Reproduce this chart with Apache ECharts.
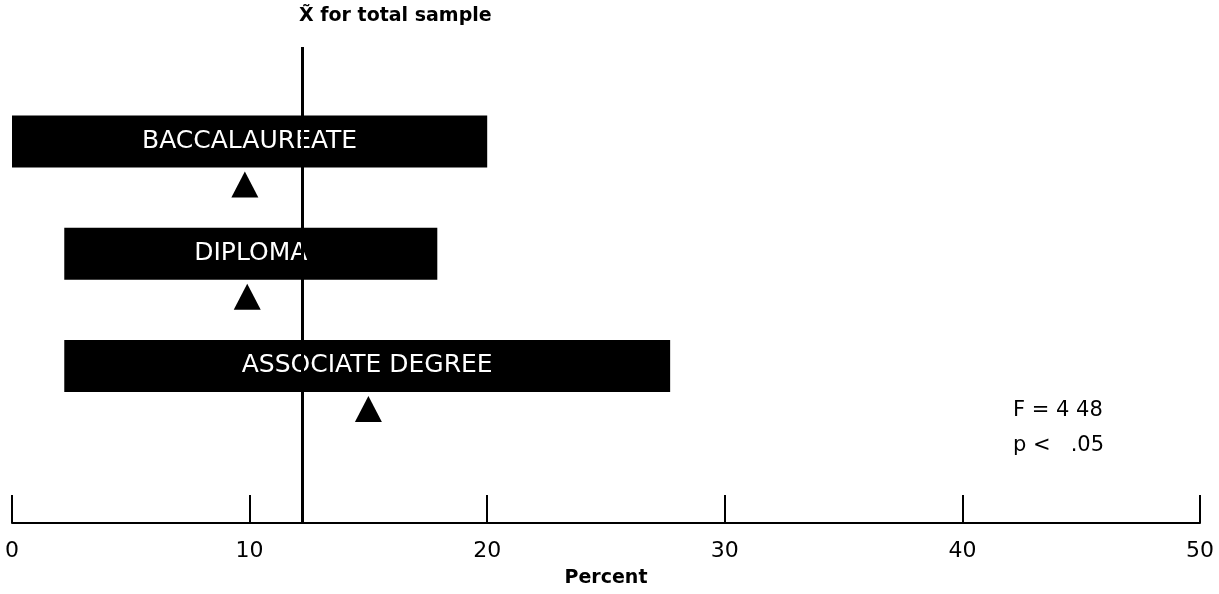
<!DOCTYPE html>
<html>
<head>
<meta charset="utf-8">
<script src="https://cdn.jsdelivr.net/npm/echarts@6/dist/echarts.min.js"></script>
<style>
  html, body { margin: 0; padding: 0; background: #ffffff; }
  #chart { width: 1219px; height: 594px; }
</style>
</head>
<body>
<div id="chart"></div>
<script>
// ---- data ----
const categories = ['BACCALAUREATE', 'DIPLOMA', 'ASSOCIATE DEGREE'];
const rangeLow = [0, 2.2, 2.2];
const rangeHigh = [20, 17.9, 27.7];
const groupMedians = [9.8, 9.9, 15.0];
const totalMedian = 12.2;
const xTickValues = [0, 10, 20, 30, 40, 50];
const statLines = ['F = 4 48', 'p <   .05'];

const FONT = 'DejaVu Sans';
const chart = echarts.init(document.getElementById('chart'), null, { renderer: 'canvas' });

const barData = categories.map((c, i) => [rangeLow[i], rangeHigh[i], i, c]);
const medianData = groupMedians.map((m, i) => [m, i]);

chart.setOption({
  animation: false,
  backgroundColor: '#ffffff',
  title: {
    text: 'X\u0303 for total sample',
    left: 294, top: 2,
    textStyle: { fontFamily: FONT, fontSize: 19, fontWeight: 'bold', color: '#000' }
  },
  grid: { left: 12, right: 19, top: 47, bottom: 71, containLabel: false },
  xAxis: {
    type: 'value',
    min: xTickValues[0], max: xTickValues[xTickValues.length - 1], interval: 10,
    splitLine: { show: false },
    axisLine: { show: true, onZero: false, lineStyle: { color: '#000', width: 2 } },
    axisTick: { show: true, inside: true, length: 28, lineStyle: { color: '#000', width: 2 } },
    axisLabel: { margin: 17, fontFamily: FONT, fontSize: 22, color: '#000' },
    name: 'Percent', nameLocation: 'middle', nameGap: 46,
    nameTextStyle: { fontFamily: FONT, fontSize: 19, fontWeight: 'bold', color: '#000' }
  },
  yAxis: {
    type: 'value', inverse: true, min: -0.842, max: 3.399, show: false
  },
  series: [
    {
      type: 'custom',
      data: barData,
      encode: { x: [0, 1], y: 2 },
      renderItem: function (params, api) {
        const lo = api.coord([api.value(0), api.value(2)]);
        const hi = api.coord([api.value(1), api.value(2)]);
        const h = 52;
        return {
          type: 'group',
          children: [
            { type: 'rect', shape: { x: lo[0], y: lo[1] - h / 2, width: hi[0] - lo[0], height: h },
              style: { fill: '#000' } },
            { type: 'text', x: (lo[0] + hi[0]) / 2, y: lo[1],
              style: { text: categories[params.dataIndex], fill: '#fff', font: '25px "' + FONT + '"',
                       textAlign: 'center', textVerticalAlign: 'middle' } }
          ]
        };
      },
      z: 2
    },
    {
      type: 'scatter',
      data: medianData,
      symbol: 'triangle',
      symbolSize: [27, 26],
      symbolOffset: [0, 43],
      itemStyle: { color: '#000', opacity: 1 },
      z: 3,
      markLine: {
        silent: true, symbol: 'none',
        label: { show: false },
        lineStyle: { color: '#000', width: 3, type: 'solid' },
        data: [{ xAxis: totalMedian }]
      }
    }
  ],
  graphic: [
    { type: 'text', left: 1013, top: 400,
      style: { text: statLines[0], font: '21px "' + FONT + '"', fill: '#000' } },
    { type: 'text', left: 1013, top: 435,
      style: { text: statLines[1], font: '21px "' + FONT + '"', fill: '#000' } }
  ]
});
</script>
</body>
</html>
